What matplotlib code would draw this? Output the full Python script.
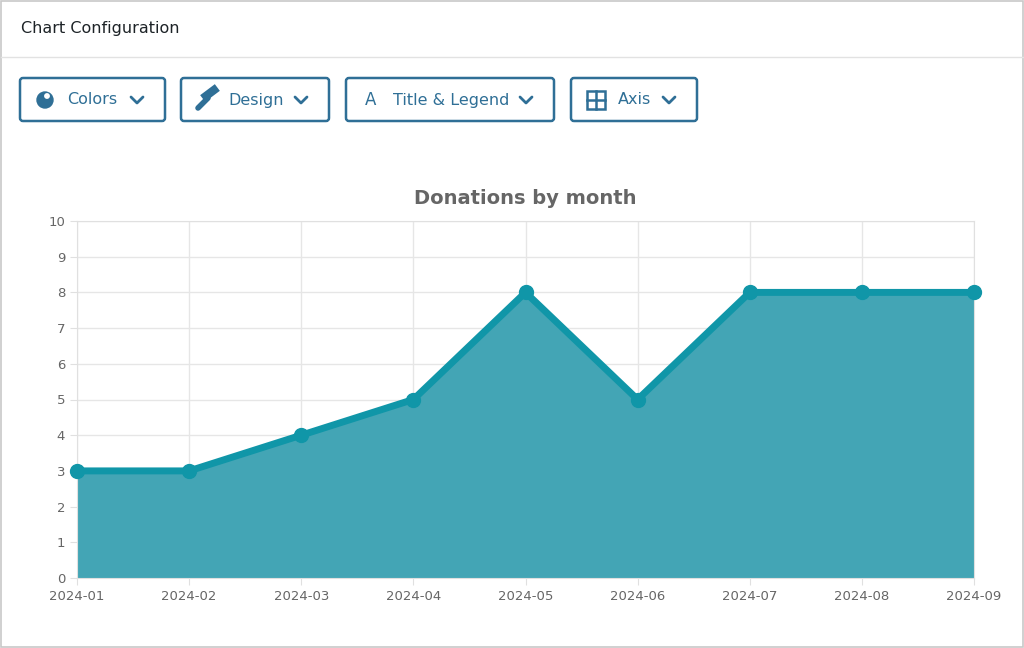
import matplotlib.pyplot as plt
from matplotlib.patches import Rectangle, FancyBboxPatch, Circle

months = ["2024-01", "2024-02", "2024-03", "2024-04", "2024-05",
          "2024-06", "2024-07", "2024-08", "2024-09"]
donations = [3, 3, 4, 5, 8, 5, 8, 8, 8]
y_ticks = list(range(0, 11))
buttons = ["Colors", "Design", "Title & Legend", "Axis"]

W, H = 1024, 648
fig = plt.figure(figsize=(W / 100, H / 100), dpi=100)

# overlay axes in pixel coordinates for the UI chrome
ui = fig.add_axes([0, 0, 1, 1])
ui.set_xlim(0, W)
ui.set_ylim(H, 0)
ui.axis("off")

ui.add_patch(Rectangle((1, 1), W - 2, H - 2, fill=False, ec="#c8c8c8", lw=1.2))
ui.plot([1, W - 1], [57, 57], color="#e2e2e2", lw=1)
ui.text(21, 28, "Chart Configuration", fontsize=11.5, color="#1d2327",
        va="center", ha="left")

btn_color = "#2f6f96"
btn_boxes = [(20, 165), (181, 329), (346, 554), (571, 697)]
icon_chars = ["", "", "A", ""]
for label, (x0, x1), ic in zip(buttons, btn_boxes, icon_chars):
    ui.add_patch(FancyBboxPatch((x0, 78), x1 - x0, 43,
                                boxstyle="round,pad=0,rounding_size=3",
                                fill=False, ec=btn_color, lw=1.8))
    ix = x0 + 25
    if label == "Colors":
        ui.add_patch(Circle((ix, 100), 8, color=btn_color))
        ui.add_patch(Circle((ix + 2, 96), 2.2, color="white"))
    elif label == "Design":
        ui.plot([ix - 8, ix + 2], [108, 98], color=btn_color, lw=4,
                solid_capstyle="round")
        ui.plot([ix, ix + 8], [96, 90], color=btn_color, lw=6)
    elif label == "Title & Legend":
        ui.text(ix, 100, "A", fontsize=12, color=btn_color,
                ha="center", va="center")
    else:
        ui.add_patch(Rectangle((ix - 9, 91), 18, 18, fill=False,
                               ec=btn_color, lw=1.8))
        ui.plot([ix, ix], [91, 109], color=btn_color, lw=1.8)
        ui.plot([ix - 9, ix + 9], [100, 100], color=btn_color, lw=1.8)
    ui.text(ix + 22, 100, label, fontsize=11.5, color=btn_color,
            ha="left", va="center")
    cx = x1 - 28
    ui.plot([cx - 6, cx, cx + 6], [97, 103, 97], color=btn_color, lw=2,
            solid_capstyle="round", solid_joinstyle="round")

# chart axes: x 77..974, y 221..578 px
ax = fig.add_axes([77 / W, 1 - 578 / H, (974 - 77) / W, (578 - 221) / H])
xs = list(range(len(months)))
ax.fill_between(xs, donations, 0, color="#43a5b5", zorder=2)
ax.plot(xs, donations, color="#1096a8", lw=5, marker="o", markersize=10,
        zorder=3, clip_on=False, solid_joinstyle="miter")
ax.set_xlim(0, len(months) - 1)
ax.set_ylim(0, 10)
ax.set_xticks(xs)
ax.set_xticklabels(months)
ax.set_yticks(y_ticks)
ax.grid(True, color="#e6e6e6", lw=1, zorder=0)
ax.tick_params(colors="#666666", labelsize=9.5, length=5, color="#e0e0e0")
for s in ax.spines.values():
    s.set_color("#e0e0e0")
ax.set_title("Donations by month", fontsize=14, fontweight="bold",
             color="#666666", pad=12)

fig.savefig("out.png", dpi=100)
